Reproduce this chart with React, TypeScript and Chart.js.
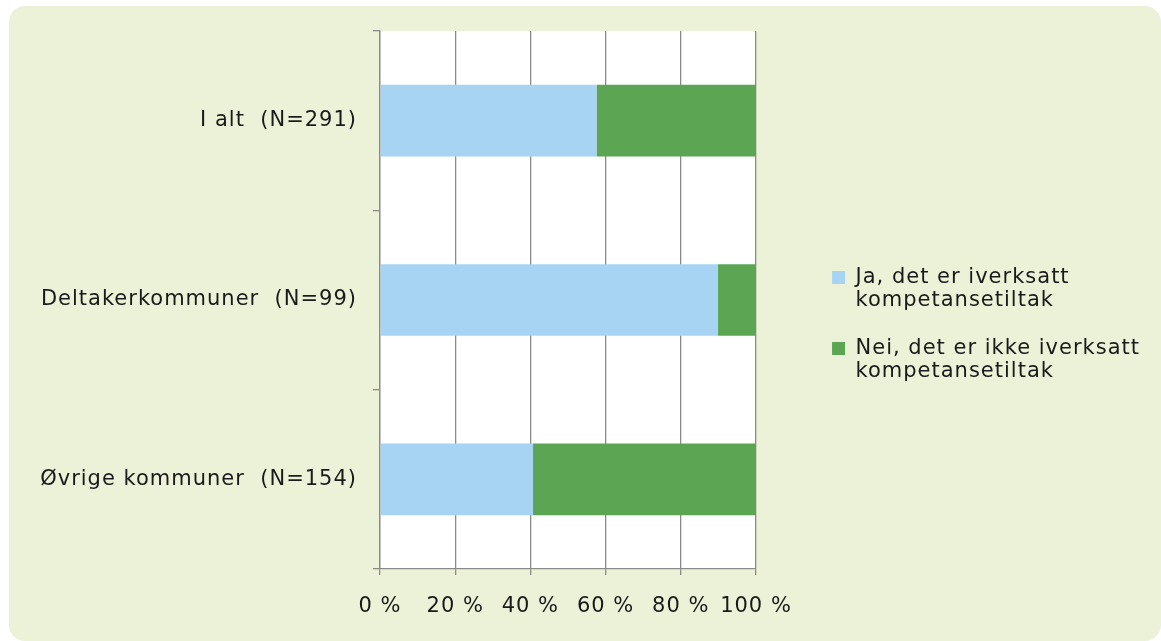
import React, { useEffect, useRef } from "react";
import { Chart, registerables } from "chart.js";

Chart.register(...registerables);

const categories = ["I alt  (N=291)", "Deltakerkommuner  (N=99)", "Øvrige kommuner  (N=154)"];
const seriesNames = [
  ["Ja, det er iverksatt", "kompetansetiltak"],
  ["Nei, det er ikke iverksatt", "kompetansetiltak"],
];
const jaValues = [57.6, 89.9, 40.7];
const neiValues = [42.4, 10.1, 59.3];
const xTickLabels = ["0 %", "20 %", "40 %", "60 %", "80 %", "100 %"];

const BLUE = "#A8D4F4";
const GREEN = "#5BA553";
const GRID = "#8A8A8A";
const TEXT = "#1A1A1A";
const FONT = "'DejaVu Sans', Verdana, sans-serif";
const FS = 21;
const LS = "1px";
const PAD_RIGHT = 11;
const PLOT_RIGHT = 756;

const spacingPlugin = {
  id: "letterSpacingAndPlot",
  beforeUpdate(c: any) {
    c.ctx.letterSpacing = LS;
  },
  beforeLayout(c: any) {
    c.ctx.letterSpacing = LS;
  },
  beforeDraw(c: any) {
    const ctx = c.ctx;
    ctx.letterSpacing = LS;
    const a = c.chartArea;
    ctx.save();
    ctx.fillStyle = "#FFFFFF";
    ctx.fillRect(a.left, a.top, a.right - a.left, a.bottom - a.top);
    ctx.restore();
  },
};

export default function App() {
  const ref = useRef<HTMLCanvasElement | null>(null);

  useEffect(() => {
    document.body.style.margin = "0";
    const canvas = ref.current!;
    const chart = new Chart(canvas, {
      type: "bar",
      data: {
        labels: categories,
        datasets: [
          {
            label: seriesNames[0].join(" "),
            data: jaValues,
            backgroundColor: BLUE,
            borderWidth: 0,
            barPercentage: 0.4,
            categoryPercentage: 1,
          },
          {
            label: seriesNames[1].join(" "),
            data: neiValues,
            backgroundColor: GREEN,
            borderWidth: 0,
            barPercentage: 0.4,
            categoryPercentage: 1,
          },
        ],
      },
      plugins: [spacingPlugin],
      options: {
        indexAxis: "y",
        responsive: false,
        animation: false,
        layout: { padding: { left: 0, top: 31, right: PAD_RIGHT, bottom: 21 } },
        font: { family: FONT, size: FS },
        plugins: {
          tooltip: { enabled: false },
          legend: {
            position: "right",
            align: "center",
            maxWidth: 420,
            labels: {
              boxWidth: 13,
              boxHeight: 13,
              padding: 25,
              color: TEXT,
              font: { family: FONT, size: FS, lineHeight: 23 / FS },
              generateLabels: () =>
                seriesNames.map((t, i) => ({
                  text: t,
                  fillStyle: i === 0 ? BLUE : GREEN,
                  strokeStyle: i === 0 ? BLUE : GREEN,
                  lineWidth: 0,
                  hidden: false,
                  datasetIndex: i,
                  fontColor: TEXT,
                })),
            },
          },
        },
        scales: {
          x: {
            type: "linear",
            stacked: true,
            min: 0,
            max: 100,
            position: "bottom",
            grid: { color: GRID, lineWidth: 1.3, tickLength: 6, drawTicks: true },
            border: { color: GRID, width: 1.3 },
            ticks: {
              stepSize: 20,
              padding: 19,
              color: TEXT,
              font: { family: FONT, size: FS },
              maxRotation: 0,
              callback: (_v: any, i: number) => xTickLabels[i],
            },
            afterFit: (s: any) => {
              s.height = 641 - 21 - 569;
            },
          },
          y: {
            type: "category",
            stacked: true,
            position: "left",
            grid: {
              offset: true,
              drawOnChartArea: false,
              drawTicks: true,
              tickLength: 7,
              color: GRID,
              lineWidth: 1.3,
            },
            border: { color: GRID, width: 1.3 },
            ticks: { padding: 16, color: TEXT, font: { family: FONT, size: FS } },
            afterFit: (s: any) => {
              s.width = 380;
            },
          },
          sp: {
            type: "linear",
            position: "right",
            display: true,
            grid: { display: false, drawTicks: false },
            border: { display: false },
            ticks: { display: false },
            afterFit: (s: any) => {
              const lg = s.chart.legend;
              const lw = lg ? lg.width : 0;
              s.width = Math.max(0, s.chart.width - PAD_RIGHT - lw - PLOT_RIGHT);
            },
          },
        },
      } as any,
    });
    return () => chart.destroy();
  }, []);

  return (
    <div style={{ position: "relative", width: 1161, height: 641, overflow: "hidden" }}>
      <div
        style={{
          position: "absolute",
          left: 9,
          top: 6,
          width: 1152,
          height: 635,
          borderRadius: 16,
          background: "#ECF2D8",
        }}
      />
      <canvas
        ref={ref}
        width={1161}
        height={641}
        style={{ position: "absolute", left: 0, top: 0, display: "block" }}
      />
    </div>
  );
}
